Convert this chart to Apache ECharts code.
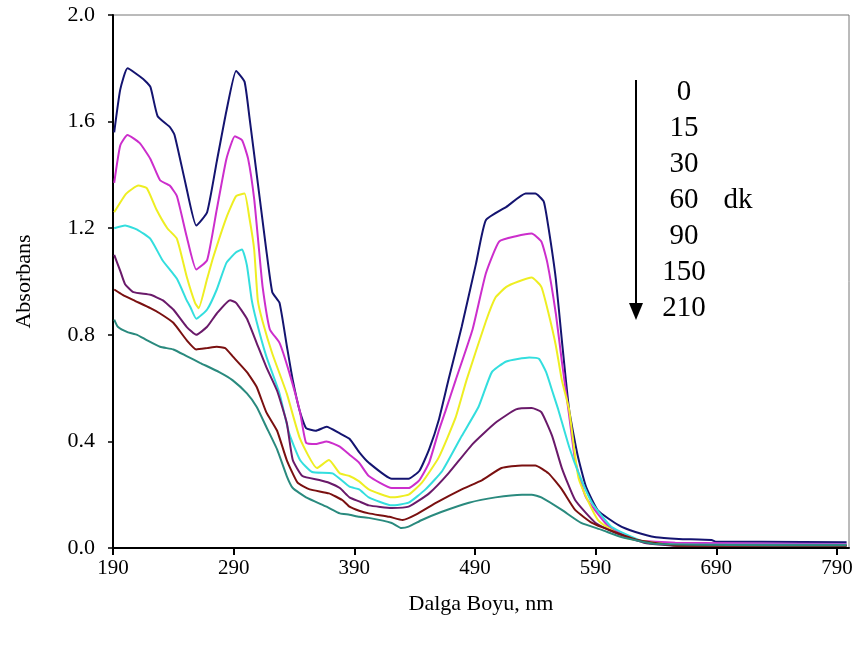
<!DOCTYPE html>
<html>
<head>
<meta charset="utf-8">
<script src="https://cdn.jsdelivr.net/npm/echarts@6/dist/echarts.min.js"></script>
<style>
  html, body { margin: 0; padding: 0; background: #fff; }
  #main { width: 858px; height: 648px; }
</style>
</head>
<body>
<div id="main"></div>
<script>
// absorbance spectra, one curve per time (dk)
var times = ['0', '15', '30', '60', '90', '150', '210'];
var colors = ['#141470', '#cc2ecc', '#eeee22', '#33dede', '#6a1a6a', '#7a1010', '#2a8a7e'];

var nm0  = [191, 196, 202, 215, 221, 227, 237, 241, 250, 259, 268, 276, 284, 292, 299, 303, 310, 317, 322, 328, 334, 339, 345, 350, 358, 367, 378, 386, 394, 402, 421, 435, 444, 452, 460, 468, 479, 491, 499, 516, 532, 540, 547, 551, 557, 562, 568, 575, 582, 592, 609, 623, 640, 659, 686, 690, 727, 798];
var abs0 = [1.56, 1.72, 1.80, 1.76, 1.73, 1.62, 1.58, 1.55, 1.37, 1.21, 1.26, 1.45, 1.64, 1.79, 1.75, 1.62, 1.37, 1.12, 0.96, 0.92, 0.76, 0.63, 0.51, 0.45, 0.44, 0.455, 0.43, 0.41, 0.36, 0.32, 0.26, 0.26, 0.29, 0.37, 0.48, 0.63, 0.83, 1.07, 1.23, 1.28, 1.33, 1.33, 1.30, 1.20, 1.01, 0.78, 0.52, 0.35, 0.23, 0.14, 0.086, 0.06, 0.04, 0.034, 0.03, 0.023, 0.023, 0.022];

var nm15  = [191, 196, 202, 212, 221, 229, 237, 243, 251, 259, 268, 276, 284, 291, 297, 302, 307, 311, 314, 320, 328, 336, 345, 350, 358, 367, 378, 386, 394, 402, 421, 435, 444, 452, 460, 466, 474, 488, 499, 510, 524, 537, 545, 550, 557, 562, 568, 573, 582, 601, 623, 656, 798];
var abs15 = [1.37, 1.51, 1.55, 1.52, 1.46, 1.38, 1.36, 1.32, 1.17, 1.045, 1.08, 1.27, 1.46, 1.545, 1.53, 1.46, 1.31, 1.12, 0.98, 0.82, 0.77, 0.66, 0.51, 0.395, 0.39, 0.40, 0.38, 0.35, 0.32, 0.27, 0.225, 0.225, 0.255, 0.32, 0.44, 0.52, 0.63, 0.82, 1.03, 1.15, 1.17, 1.18, 1.15, 1.07, 0.88, 0.70, 0.50, 0.33, 0.19, 0.08, 0.03, 0.02, 0.015];

var nm30  = [191, 201, 211, 218, 226, 235, 243, 251, 258, 261, 268, 273, 284, 292, 299, 303, 307, 310, 314, 322, 334, 345, 359, 369, 378, 386, 394, 402, 421, 435, 446, 460, 474, 483, 499, 507, 516, 526, 537, 545, 551, 557, 562, 568, 576, 592, 615, 659, 798];
var abs30 = [1.26, 1.33, 1.36, 1.35, 1.27, 1.20, 1.16, 1.02, 0.92, 0.90, 1.01, 1.09, 1.24, 1.32, 1.33, 1.24, 1.12, 0.93, 0.85, 0.73, 0.58, 0.41, 0.30, 0.33, 0.28, 0.27, 0.25, 0.22, 0.19, 0.20, 0.245, 0.34, 0.49, 0.63, 0.85, 0.94, 0.98, 1.00, 1.015, 0.98, 0.88, 0.76, 0.63, 0.52, 0.26, 0.105, 0.038, 0.01, 0.01];

var nm60  = [191, 200, 210, 221, 231, 243, 251, 254, 259, 268, 276, 284, 292, 297, 301, 305, 309, 317, 328, 336, 345, 355, 372, 386, 394, 402, 421, 435, 449, 463, 479, 493, 504, 516, 535, 543, 549, 554, 559, 568, 576, 587, 603, 631, 660, 798];
var abs60 = [1.20, 1.21, 1.195, 1.16, 1.08, 1.01, 0.93, 0.905, 0.86, 0.895, 0.97, 1.07, 1.11, 1.12, 1.06, 0.93, 0.85, 0.72, 0.58, 0.43, 0.33, 0.285, 0.28, 0.23, 0.22, 0.19, 0.16, 0.17, 0.22, 0.29, 0.42, 0.53, 0.66, 0.70, 0.715, 0.71, 0.66, 0.59, 0.52, 0.38, 0.28, 0.17, 0.08, 0.022, 0.012, 0.012];

var nm90  = [191, 196, 200, 207, 221, 231, 240, 251, 259, 268, 276, 287, 292, 301, 309, 317, 326, 334, 339, 347, 361, 369, 378, 386, 394, 402, 421, 435, 452, 468, 488, 507, 524, 537, 545, 554, 562, 573, 590, 607, 630, 660, 798];
var abs90 = [1.10, 1.04, 0.99, 0.96, 0.95, 0.93, 0.895, 0.83, 0.80, 0.83, 0.88, 0.93, 0.92, 0.86, 0.77, 0.68, 0.59, 0.47, 0.33, 0.27, 0.255, 0.245, 0.225, 0.19, 0.175, 0.16, 0.15, 0.155, 0.205, 0.28, 0.39, 0.47, 0.52, 0.525, 0.51, 0.42, 0.30, 0.18, 0.094, 0.056, 0.02, 0.008, 0.008];

var nm150  = [191, 198, 207, 221, 229, 240, 251, 259, 268, 276, 283, 289, 301, 309, 317, 326, 334, 343, 353, 369, 380, 386, 394, 402, 419, 430, 441, 458, 479, 496, 512, 529, 540, 551, 562, 573, 587, 601, 625, 660, 798];
var abs150 = [0.97, 0.95, 0.93, 0.90, 0.88, 0.845, 0.78, 0.745, 0.75, 0.755, 0.75, 0.72, 0.66, 0.605, 0.51, 0.44, 0.33, 0.245, 0.22, 0.205, 0.18, 0.155, 0.14, 0.13, 0.117, 0.105, 0.125, 0.17, 0.22, 0.255, 0.30, 0.31, 0.31, 0.28, 0.22, 0.143, 0.094, 0.068, 0.03, 0.008, 0.008];

var nm210  = [191, 194, 202, 210, 218, 229, 240, 251, 262, 278, 289, 301, 309, 317, 326, 334, 339, 350, 367, 378, 386, 394, 402, 421, 429, 435, 446, 462, 485, 507, 529, 537, 545, 562, 578, 595, 612, 640, 798];
var abs210 = [0.857, 0.83, 0.81, 0.80, 0.78, 0.755, 0.745, 0.72, 0.695, 0.66, 0.63, 0.58, 0.53, 0.455, 0.37, 0.27, 0.225, 0.19, 0.155, 0.13, 0.125, 0.117, 0.113, 0.094, 0.075, 0.08, 0.105, 0.135, 0.17, 0.19, 0.20, 0.20, 0.19, 0.143, 0.094, 0.068, 0.04, 0.015, 0.01];

var xs = [nm0, nm15, nm30, nm60, nm90, nm150, nm210];
var ys = [abs0, abs15, abs30, abs60, abs90, abs150, abs210];

var serif = 'Liberation Serif';

var dom = document.getElementById('main');
var myChart = echarts.init(dom);

var series = times.map(function (t, i) {
    return {
        name: t,
        type: 'line',
        showSymbol: false,
        smooth: 0.15,
        animation: false,
        lineStyle: { width: 2, color: colors[i] },
        itemStyle: { color: colors[i] },
        data: xs[i].map(function (x, j) { return [x, ys[i][j]]; })
    };
});

// legend drawn as text list with arrow
var legendItems = times.map(function (t, i) {
    return {
        type: 'text',
        x: 684,
        y: 92 + i * 36,
        style: {
            text: t,
            font: '29px "' + serif + '"',
            fill: '#000',
            align: 'center',
            verticalAlign: 'middle'
        }
    };
});
legendItems.push({
    type: 'text',
    x: 738,
    y: 200,
    style: { text: 'dk', font: '29px "' + serif + '"', fill: '#000', align: 'center', verticalAlign: 'middle' }
});
legendItems.push({
    type: 'line',
    shape: { x1: 636, y1: 80, x2: 636, y2: 306 },
    style: { stroke: '#000', lineWidth: 2 }
});
legendItems.push({
    type: 'polygon',
    shape: { points: [[629, 303], [643, 303], [636, 320]] },
    style: { fill: '#000' }
});

var option = {
    animation: false,
    backgroundColor: '#fff',
    grid: {
        left: 113,
        right: 9,
        top: 15,
        bottom: 100,
        show: true,
        borderColor: '#777',
        borderWidth: 1
    },
    xAxis: {
        type: 'value',
        min: 190,
        max: 800,
        interval: 100,
        name: 'Dalga Boyu, nm',
        nameLocation: 'middle',
        nameGap: 45,
        nameTextStyle: { fontFamily: serif, fontSize: 22, color: '#000' },
        axisLine: { show: true, lineStyle: { color: '#000', width: 2 } },
        axisTick: { show: true, length: 7, lineStyle: { color: '#000', width: 2 } },
        axisLabel: { fontFamily: serif, fontSize: 21, color: '#000', margin: 10, showMaxLabel: false },
        splitLine: { show: false }
    },
    yAxis: {
        type: 'value',
        min: 0,
        max: 2,
        interval: 0.4,
        name: 'Absorbans',
        nameLocation: 'middle',
        nameGap: 78,
        nameTextStyle: { fontFamily: serif, fontSize: 22, color: '#000' },
        axisLine: { show: true, lineStyle: { color: '#000', width: 2 } },
        axisTick: { show: true, length: 5, lineStyle: { color: '#000', width: 1.5 } },
        axisLabel: {
            fontFamily: serif, fontSize: 22, color: '#000', margin: 18,
            formatter: function (v) { return v.toFixed(1); }
        },
        splitLine: { show: false }
    },
    series: series,
    graphic: legendItems
};

if (option && typeof option === 'object') {
    myChart.setOption(option);
}
</script>
</body>
</html>
